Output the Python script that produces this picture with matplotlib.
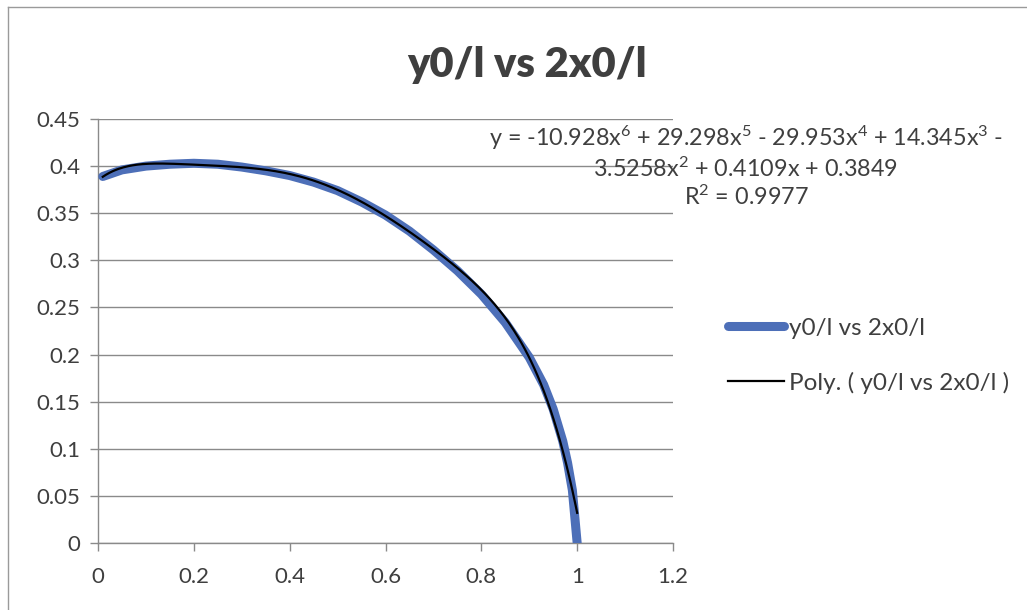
import numpy as np
import matplotlib
matplotlib.use("Agg")
import matplotlib.pyplot as plt
from matplotlib.lines import Line2D

plt.rcParams["font.family"] = ["Lato", "DejaVu Sans"]
plt.rcParams["mathtext.fontset"] = "custom"
plt.rcParams["mathtext.rm"] = "Lato"
plt.rcParams["mathtext.it"] = "Lato:italic"

# measured profile: y0/l against 2x0/l
x_vals = [0.01, 0.05, 0.1, 0.15, 0.2, 0.25, 0.3, 0.35, 0.4, 0.45, 0.5, 0.55,
          0.6, 0.65, 0.7, 0.75, 0.8, 0.85, 0.9, 0.93, 0.95, 0.97, 0.98, 0.99, 1.0]
y_vals = [0.389, 0.396, 0.400, 0.402, 0.403, 0.402, 0.399, 0.395, 0.390, 0.383,
          0.374, 0.362, 0.348, 0.331, 0.311, 0.289, 0.264, 0.234, 0.197, 0.168,
          0.142, 0.108, 0.085, 0.056, 0.0]

# 6th order trendline, highest power first
poly_coef = [-10.928, 29.298, -29.953, 14.345, -3.5258, 0.4109, 0.3849]
r_squared = 0.9977

x_ticks = [0, 0.2, 0.4, 0.6, 0.8, 1.0, 1.2]
x_ticklabels = ["0", "0.2", "0.4", "0.6", "0.8", "1", "1.2"]
y_ticks = [0, 0.05, 0.1, 0.15, 0.2, 0.25, 0.3, 0.35, 0.4, 0.45]
y_ticklabels = ["0", "0.05", "0.1", "0.15", "0.2", "0.25", "0.3", "0.35", "0.4", "0.45"]

series_name = "y0/l vs 2x0/l"
TXT = "#3f3f3f"
GRID = "#8a8a8a"
BLUE = "#4d6fb8"

W, H = 1027, 610
fig = plt.figure(figsize=(W / 100, H / 100), dpi=100)
fig.patch.set_facecolor("white")

# chart frame (only left/top edges land inside the image)
fig.add_artist(Line2D([8 / W, 8 / W], [0, 1 - 7 / H], transform=fig.transFigure,
                      color="#9a9a9a", lw=1.0))
fig.add_artist(Line2D([8 / W, 1], [1 - 7 / H, 1 - 7 / H], transform=fig.transFigure,
                      color="#9a9a9a", lw=1.0))

ax = fig.add_axes([98 / W, (H - 543) / H, (673 - 98) / W, (543 - 119) / H])

ax.plot(x_vals, y_vals, color=BLUE, lw=6.5, solid_capstyle="round",
        label=series_name, zorder=3)

xt = np.linspace(x_vals[0], x_vals[-1], 300)
ax.plot(xt, np.polyval(poly_coef, xt), color="black", lw=1.6,
        label=f"Poly. ( {series_name} )", zorder=4)

ax.set_xlim(0, 1.2)
ax.set_ylim(0, 0.45)
ax.set_xticks(x_ticks)
ax.set_xticklabels(x_ticklabels)
ax.set_yticks(y_ticks)
ax.set_yticklabels(y_ticklabels)
ax.tick_params(axis="both", colors=GRID, labelcolor=TXT, labelsize=16,
               length=6, width=1.0, direction="out")
ax.tick_params(axis="y", pad=7)
ax.tick_params(axis="x", pad=11)

ax.yaxis.grid(True, color=GRID, lw=1.0)
ax.set_axisbelow(True)
for side in ("top", "right"):
    ax.spines[side].set_visible(False)
for side in ("left", "bottom"):
    ax.spines[side].set_color(GRID)
    ax.spines[side].set_linewidth(1.0)

fig.text(527 / W, 1 - 65 / H, series_name, ha="center", va="center",
         fontsize=30, fontweight="heavy", color=TXT)

# trendline equation, split over lines like the spreadsheet label
c = poly_coef
eq = (f"y = {c[0]:.3f}x$^6$ + {c[1]:.3f}x$^5$ - {abs(c[2]):.3f}x$^4$ + {c[3]:.3f}x$^3$ -\n"
      f"{abs(c[4]):.4f}x$^2$ + {c[5]:.4f}x + {c[6]:.4f}\n"
      f"R$^2$ = {r_squared:.4f}")
fig.text(746 / W, 1 - 124 / H, eq, ha="center", va="top", fontsize=16.8,
         color=TXT, linespacing=1.2)

leg = fig.legend(loc="upper left", bbox_to_anchor=(706 / W, 1 - 296 / H),
                 frameon=False, fontsize=17.5, handlelength=2.3,
                 handletextpad=0.2, labelspacing=1.35, labelcolor=TXT)

fig.savefig("out.png", dpi=100, facecolor="white")
